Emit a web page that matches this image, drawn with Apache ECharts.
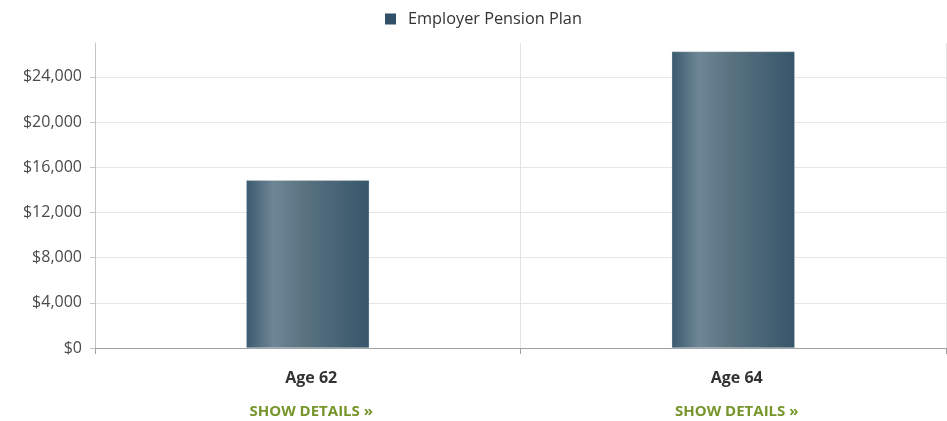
<!DOCTYPE html>
<html>
<head>
<meta charset="utf-8">
<script src="https://cdn.jsdelivr.net/npm/echarts@6/dist/echarts.min.js"></script>
<style>
html,body{margin:0;padding:0;background:#fff;overflow:hidden;}
#chart{width:947px;height:421px;}
</style>
</head>
<body>
<div id="chart"></div>
<script>
const categories = ['Age 62', 'Age 64'];
const linkText = 'SHOW DETAILS »';
const seriesName = 'Employer Pension Plan';
const pensionValues = [14850, 26250];
const yMin = 0, yMax = 27000, yInterval = 4000;

const chart = echarts.init(document.getElementById('chart'));
const font = '"Open Sans", "Noto Sans", sans-serif';
const barGradient = new echarts.graphic.LinearGradient(0, 0, 1, 0, [
  {offset: 0, color: '#3a5a6f'},
  {offset: 0.22, color: '#6e8695'},
  {offset: 0.5, color: '#57717f'},
  {offset: 1, color: '#37566b'}
]);
chart.setOption({
  animation: false,
  textStyle: {fontFamily: font},
  legend: {
    data: [seriesName],
    top: 6,
    left: 380,
    itemWidth: 11,
    itemHeight: 11,
    itemGap: 12,
    icon: 'rect',
    itemStyle: {borderWidth: 0, color: '#2f5068'},
    textStyle: {fontSize: 16.3, color: '#333', fontFamily: font, padding: [0, 0, 0, 7]}
  },
  grid: {left: 95, right: 1, top: 43, bottom: 73, containLabel: false, outerBoundsMode: 'none'},
  xAxis: {
    type: 'category',
    data: categories,
    axisLine: {lineStyle: {color: '#a0a0a0', width: 1}},
    axisTick: {show: true, length: 6, lineStyle: {color: '#a0a0a0'}},
    splitLine: {show: true, lineStyle: {color: '#e3e3e3'}},
    axisLabel: {
      margin: 14,
      padding: [0, 0, 0, 7],
      formatter: v => '{a|' + v + '}\n{b|' + linkText + '}',
      rich: {
        a: {fontSize: 16, fontWeight: 'bold', color: '#333', fontFamily: font, lineHeight: 33},
        b: {fontSize: 15, fontWeight: 'bold', color: '#76962c', fontFamily: font, lineHeight: 33}
      }
    }
  },
  yAxis: {
    type: 'value',
    min: yMin,
    max: yMax,
    interval: yInterval,
    axisLine: {show: true, lineStyle: {color: '#c4c4c4'}},
    axisTick: {show: true, length: 5, lineStyle: {color: '#c4c4c4'}},
    splitLine: {show: true, showMaxLine: false, lineStyle: {color: '#e6e6e6'}},
    axisLabel: {
      showMaxLabel: false,
      margin: 13,
      fontSize: 16,
      color: '#4a4a4a',
      fontFamily: font,
      formatter: v => (v % yInterval === 0) ? '$' + v.toLocaleString('en-US') : ''
    }
  },
  series: [{
    name: seriesName,
    type: 'bar',
    data: pensionValues,
    barWidth: 123,
    itemStyle: {color: barGradient, borderColor: 'rgba(220,226,230,0.6)', borderWidth: 0.5}
  }],
  color: ['#2f5068']
});
</script>
</body>
</html>
